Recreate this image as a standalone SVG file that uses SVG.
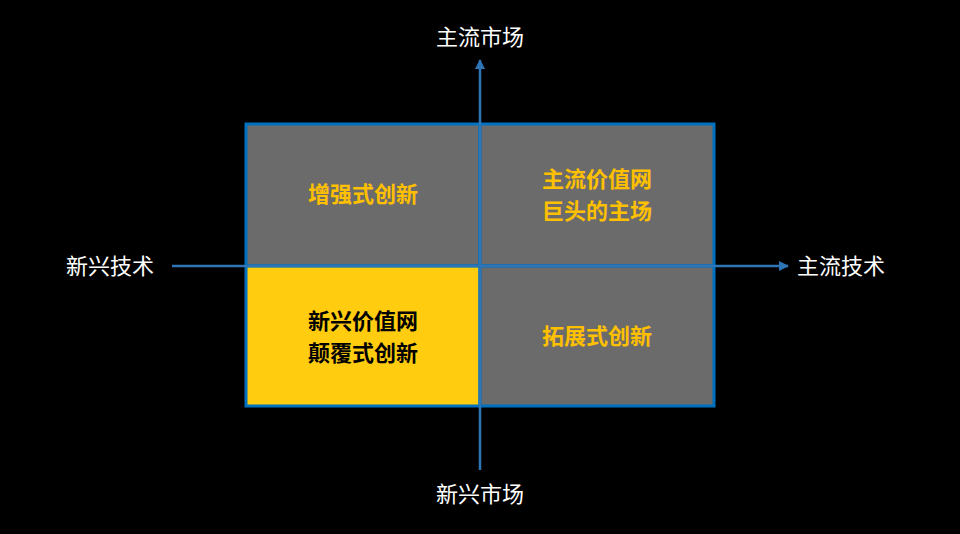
<svg xmlns="http://www.w3.org/2000/svg" width="960" height="534" viewBox="0 0 960 534">
<style>
.cell{stroke:#0070C0;stroke-width:3}
.g{fill:#6b6b6b}
.lbl{font-family:"Noto Sans CJK SC",sans-serif;font-size:22px;font-weight:bold;text-anchor:middle}
.ax{font-family:"Noto Sans CJK SC",sans-serif;font-size:22px;fill:#fff}
.axis{stroke:#2E75B6;stroke-width:2.5;fill:none}
</style>
<defs><marker id="ar" viewBox="0 0 10 10" refX="9" refY="5" markerWidth="4" markerHeight="4" orient="auto"><path d="M0,0L10,5L0,10z" fill="#2E75B6"/></marker></defs>
<rect width="960" height="534" fill="#000"/>
<g id="q1"><rect class="cell g" x="246" y="124" width="234" height="142"/><text class="lbl" x="363" y="202" fill="#FFC000">增强式创新</text></g>
<g id="q2"><rect class="cell g" x="480" y="124" width="234" height="142"/><text class="lbl" x="597" y="187" fill="#FFC000">主流价值网</text><text class="lbl" x="597" y="219" fill="#FFC000">巨头的主场</text></g>
<g id="q3"><rect class="cell" fill="#FFCC0F" x="246" y="266" width="234" height="140"/><text class="lbl" x="363" y="329" fill="#000">新兴价值网</text><text class="lbl" x="363" y="361" fill="#000">颠覆式创新</text></g>
<g id="q4"><rect class="cell g" x="480" y="266" width="234" height="140"/><text class="lbl" x="597" y="344" fill="#FFC000">拓展式创新</text></g>
<g id="connectors">
<line class="axis" x1="480" y1="470" x2="480" y2="60" marker-end="url(#ar)"/>
<line class="axis" x1="172" y1="266" x2="788" y2="266" marker-end="url(#ar)"/>
</g>
<text class="ax" x="480" y="45" text-anchor="middle">主流市场</text>
<text class="ax" x="480" y="502" text-anchor="middle">新兴市场</text>
<text class="ax" x="66" y="274">新兴技术</text>
<text class="ax" x="797" y="274">主流技术</text>
</svg>
